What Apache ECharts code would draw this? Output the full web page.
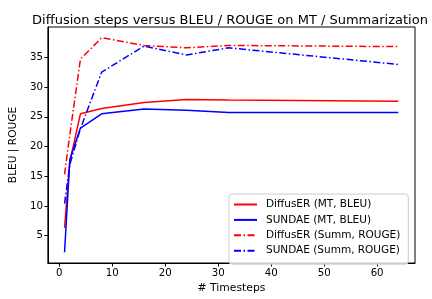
<!DOCTYPE html>
<html>
<head>
<meta charset="utf-8">
<script src="https://cdn.jsdelivr.net/npm/echarts@6/dist/echarts.min.js"></script>
<style>
  html, body { margin: 0; padding: 0; background: #fff; }
  #chart { width: 432px; height: 299px; }
</style>
</head>
<body>
<div id="chart"></div>
<script>
// diffusion timesteps on the x axis
const timesteps = [1, 2, 4, 8, 16, 24, 32, 64];

const diffuserMt = [6.3, 17.5, 25.5, 26.4, 27.4, 27.9, 27.8, 27.6];
const sundaeMt = [2.2, 17.8, 23.1, 25.5, 26.3, 26.1, 25.7, 25.7];
const diffuserSumm = [15.3, 22.0, 34.7, 38.3, 37.0, 36.6, 37.0, 36.8];
const sundaeSumm = [10.4, 17.0, 23.0, 32.5, 36.9, 35.4, 36.6, 33.8];

const xTicks = [0, 10, 20, 30, 40, 50, 60];
const yTicks = [5, 10, 15, 20, 25, 30, 35];

const font = "DejaVu Sans";
const dashDot = [7, 2.5, 1.5, 2.5];

function pairs(ys) {
  return timesteps.map((t, i) => [t, ys[i]]);
}

function lineSeries(name, color, ys, dashed) {
  return {
    name: name,
    type: "line",
    data: pairs(ys),
    symbol: "none",
    animation: false,
    lineStyle: { color: color, width: 1.5, type: dashed ? dashDot : "solid" },
    itemStyle: { color: color },
  };
}

const chart = echarts.init(document.getElementById("chart"));
chart.setOption({
  animation: false,
  title: {
    text: "Diffusion steps versus BLEU / ROUGE on MT / Summarization",
    left: 225,
    top: 9,
    textAlign: "center",
    textStyle: { fontFamily: font, fontSize: 13, fontWeight: "normal", color: "#000" },
  },
  grid: {
    left: 47,
    right: 17,
    top: 27,
    bottom: 33,
    show: true,
    borderColor: "#000",
    borderWidth: 1,
  },
  legend: {
    orient: "vertical",
    left: 229,
    top: 194,
    itemWidth: 23,
    itemHeight: 10,
    itemGap: 4.4,
    padding: [5, 8, 8, 4],
    borderColor: "#ccc",
    borderWidth: 1,
    borderRadius: 3,
    backgroundColor: "rgba(255,255,255,0.8)",
    itemStyle: { opacity: 0 },
    textStyle: { fontFamily: font, fontSize: 10.5, color: "#000", padding: [0, 0, 0, 4] },
    data: ["DiffusER (MT, BLEU)", "SUNDAE (MT, BLEU)", "DiffusER (Summ, ROUGE)", "SUNDAE (Summ, ROUGE)"],
  },
  xAxis: {
    type: "value",
    min: -2.15,
    max: 67.15,
    name: "# Timesteps",
    nameLocation: "middle",
    nameGap: 20,
    nameTextStyle: { fontFamily: font, fontSize: 10.8, color: "#000" },
    splitLine: { show: false },
    axisLine: { show: true, onZero: false, lineStyle: { color: "#000", width: 1 } },
    axisTick: { show: true, length: 3.5, customValues: xTicks, lineStyle: { color: "#000" } },
    axisLabel: { customValues: xTicks, fontFamily: font, fontSize: 10.2, color: "#000", margin: 5 },
  },
  yAxis: {
    type: "value",
    min: 0.4,
    max: 40.1,
    name: "BLEU | ROUGE",
    nameLocation: "middle",
    nameGap: 27,
    nameTextStyle: { fontFamily: font, fontSize: 10.6, color: "#000" },
    splitLine: { show: false },
    axisLine: { show: true, onZero: false, lineStyle: { color: "#000", width: 1 } },
    axisTick: { show: true, length: 3.5, customValues: yTicks, lineStyle: { color: "#000" } },
    axisLabel: { customValues: yTicks, fontFamily: font, fontSize: 10.2, color: "#000", margin: 5 },
  },
  series: [
    lineSeries("DiffusER (MT, BLEU)", "#ff0000", diffuserMt, false),
    lineSeries("SUNDAE (MT, BLEU)", "#0000ff", sundaeMt, false),
    lineSeries("DiffusER (Summ, ROUGE)", "#ff0000", diffuserSumm, true),
    lineSeries("SUNDAE (Summ, ROUGE)", "#0000ff", sundaeSumm, true),
  ],
});
</script>
</body>
</html>
